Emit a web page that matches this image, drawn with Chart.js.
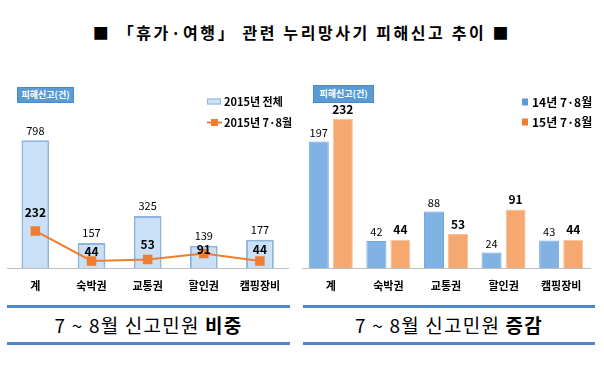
<!DOCTYPE html>
<html><head><meta charset="utf-8">
<script src="https://cdn.jsdelivr.net/npm/chart.js@4"></script>
<style>
body{margin:0;background:#fff;width:604px;height:365px;position:relative;overflow:hidden;font-family:"Noto Sans CJK KR","Noto Sans",sans-serif;color:#000;}
#title{position:absolute;left:0;width:604px;top:20px;text-align:center;font-weight:bold;font-size:16px;line-height:24px;letter-spacing:2.6px;}
.cap{position:absolute;top:305px;height:34px;border-top:3px solid #4f87c8;border-bottom:3px solid #4f87c8;text-align:center;font-size:19px;line-height:34px;letter-spacing:1.2px;}
.cap b{font-weight:bold;}
.box{position:absolute;background:#5b9bd5;color:#fff;font-size:9px;font-weight:bold;text-align:center;border:1px solid #4a8ac8;box-sizing:border-box;}
canvas{position:absolute;}
</style></head>
<body>
<div id="title">■ 「휴가·여행」 관련 누리망사기 피해신고 추이 ■</div>
<div class="box" style="left:17px;top:87px;width:57px;height:16px;line-height:14px;">피해신고(건)</div>
<div class="box" style="left:313px;top:85px;width:61px;height:18px;line-height:16px;">피해신고(건)</div>
<div class="cap" style="left:7px;width:283px;">7 ~ 8월 신고민원 <b>비중</b></div>
<div class="cap" style="left:303px;width:292px;">7 ~ 8월 신고민원 <b>증감</b></div>
<canvas id="c1" width="300" height="240" style="left:0;top:60px;width:300px;height:240px;"></canvas>
<canvas id="c2" width="304" height="240" style="left:300px;top:60px;width:304px;height:240px;"></canvas>
<script>
const categories = ['계','숙박권','교통권','할인권','캠핑장비'];
const total2015 = [798,157,325,139,177];
const julAug2015 = [232,44,53,91,44];
const julAug2014 = [197,42,88,24,43];
const leftLegend = ['2015년 전체','2015년 7·8월'];
const rightLegend = ['14년 7·8월','15년 7·8월'];

const FONT = "'Noto Sans CJK KR', 'Noto Sans', sans-serif";

const valueLabels = {
  id:'valueLabels',
  afterDatasetsDraw(chart){
    const ctx = chart.ctx;
    chart.data.datasets.forEach((ds,i)=>{
      const lab = ds.labelStyle; if(!lab) return;
      const meta = chart.getDatasetMeta(i);
      ctx.save();
      ctx.font = lab.font; ctx.fillStyle = '#000';
      ctx.textAlign = 'center'; ctx.textBaseline = 'middle';
      meta.data.forEach((el,j)=>{
        const off = Array.isArray(lab.offset) ? lab.offset[j] : lab.offset;
        ctx.fillText(String(ds.data[j]), el.x, el.y - off);
      });
      ctx.restore();
    });
  }
};

const customLegend = {
  id:'customLegend',
  afterDraw(chart, args, opts){
    if(!opts.items) return;
    const ctx = chart.ctx;
    ctx.save();
    opts.items.forEach(it=>{
      if(it.kind === 'barIcon'){
        ctx.fillStyle = it.fill; ctx.strokeStyle = it.stroke; ctx.lineWidth = 1;
        ctx.fillRect(it.x, it.y-3, 14, 6); ctx.strokeRect(it.x+0.5, it.y-2.5, 13, 5);
      } else if(it.kind === 'lineIcon'){
        ctx.strokeStyle = it.stroke; ctx.lineWidth = 2;
        ctx.beginPath(); ctx.moveTo(it.x, it.y); ctx.lineTo(it.x+15, it.y); ctx.stroke();
        ctx.fillStyle = it.stroke; ctx.fillRect(it.x+4, it.y-3.5, 7, 7);
      } else {
        ctx.fillStyle = it.fill; ctx.fillRect(it.x, it.y-3.5, 6, 7);
      }
      ctx.fillStyle = '#000'; ctx.font = it.font; ctx.textAlign='left'; ctx.textBaseline='middle';
      ctx.fillText(it.text, it.tx, it.y);
    });
    ctx.restore();
  }
};

function xScale(){
  return {
    grid:{display:false},
    border:{display:true,color:'#bfbfbf',width:1},
    ticks:{color:'#000',font:{family:FONT,size:11,weight:'bold'},padding:3},
    afterFit(s){ s.height = 32; }
  };
}

new Chart(document.getElementById('c1'),{
  data:{
    labels:categories,
    datasets:[
      {type:'line',label:leftLegend[1],data:julAug2015,order:0,borderColor:'#ed7d31',borderWidth:2,
       pointStyle:'rect',pointRadius:5.3,pointBackgroundColor:'#ed7d31',pointBorderColor:'#ed7d31',
       labelStyle:{font:'bold 12px '+FONT,offset:[18,9.5,15.5,4.5,12]}},
      {type:'bar',label:leftLegend[0],data:total2015,order:1,backgroundColor:'#c9e0f6',borderColor:'#8fb5df',borderWidth:2,
       categoryPercentage:1,barPercentage:0.495,
       labelStyle:{font:'11px '+FONT,offset:10}}
    ]
  },
  options:{
    responsive:false,animation:false,
    layout:{padding:{top:48,left:5,right:12,bottom:0}},
    scales:{x:xScale(),y:{display:false,min:0,max:1000}},
    plugins:{legend:{display:false},tooltip:{enabled:false},
      customLegend:{items:[
        {kind:'barIcon',x:207,y:41.5,fill:'#cde2f6',stroke:'#8fb3dc',text:leftLegend[0],tx:224,font:'bold 11px '+FONT},
        {kind:'lineIcon',x:207,y:62.5,stroke:'#ed7d31',text:leftLegend[1],tx:224,font:'bold 11px '+FONT}
      ]}}
  },
  plugins:[valueLabels,customLegend]
});

new Chart(document.getElementById('c2'),{
  type:'bar',
  data:{
    labels:categories,
    datasets:[
      {label:rightLegend[0],data:julAug2014,backgroundColor:'#80b2e4',borderColor:'#6ea6dd',borderWidth:1,
       categoryPercentage:0.835,barPercentage:0.833,labelStyle:{font:'11px '+FONT,offset:9}},
      {label:rightLegend[1],data:julAug2015,backgroundColor:'#f5a86f',borderColor:'#f8c49f',borderWidth:1,
       categoryPercentage:0.835,barPercentage:0.833,labelStyle:{font:'bold 12px '+FONT,offset:10}}
    ]
  },
  options:{
    responsive:false,animation:false,
    layout:{padding:{top:47.5,left:2,right:14,bottom:0}},
    scales:{x:xScale(),y:{display:false,min:0,max:250}},
    plugins:{legend:{display:false},tooltip:{enabled:false},
      customLegend:{items:[
        {kind:'square',x:222,y:42,fill:'#5b9bd5',text:rightLegend[0],tx:232,font:'bold 12px '+FONT},
        {kind:'square',x:222,y:62,fill:'#ed7d31',text:rightLegend[1],tx:232,font:'bold 12px '+FONT}
      ]}}
  },
  plugins:[valueLabels,customLegend]
});
</script>
</body></html>
